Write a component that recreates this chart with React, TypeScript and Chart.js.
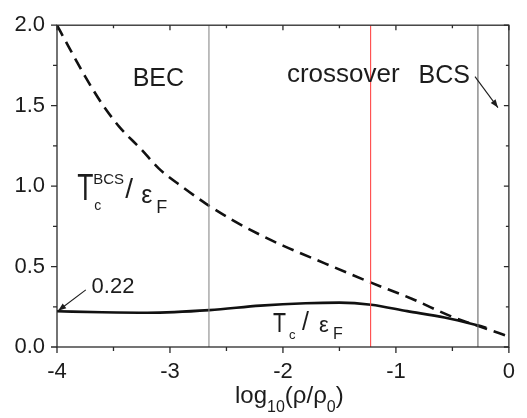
import React, { useEffect, useRef } from "react";
import { Chart, registerables } from "chart.js";

Chart.register(...registerables);

// ---- Data ----
const tcBcsX = [-4.0, -3.9, -3.75, -3.6, -3.45, -3.25, -3.1, -2.9, -2.68, -2.45, -2.21, -2.0, -1.63, -1.22, -0.86, -0.51, -0.27, 0.0];
const tcBcsY = [2.0, 1.87, 1.68, 1.51, 1.37, 1.225, 1.11, 1.0, 0.89, 0.79, 0.70, 0.63, 0.52, 0.40, 0.30, 0.19, 0.13, 0.065];

const tcX = [-4.0, -3.6, -3.2, -2.65, -2.2, -1.8, -1.5, -1.22, -0.9, -0.57, -0.27, -0.2];
const tcY = [0.222, 0.216, 0.213, 0.229, 0.257, 0.272, 0.276, 0.263, 0.223, 0.183, 0.133, 0.12];

const regionLinesX = [-2.655, -1.224, -0.274];
const regionLineColors = ["#8a8a8a", "#ff4a4a", "#666666"];

const xMajorTicks = [-4, -3, -2, -1, 0];
const xMinorTicks = [-3.5, -2.5, -1.5, -0.5];
const yMajorTicks = [0, 0.5, 1.0, 1.5, 2.0];
const yMinorTicks = [0.25, 0.75, 1.25, 1.75];

const FONT = "'Liberation Sans', Arial, Helvetica, sans-serif";
const INK = "#1c1c1c";

const toPts = (xs: number[], ys: number[]) => xs.map((x, i) => ({ x, y: ys[i] }));

const framePlugin = {
  id: "frameTicks",
  afterDatasetsDraw(chart: any) {
    const { ctx, chartArea: a, scales } = chart;
    const xs = scales.x, ys = scales.y;
    ctx.save();
    ctx.strokeStyle = "#2a2a2a";
    ctx.lineWidth = 1.3;
    ctx.strokeRect(a.left, a.top, a.right - a.left, a.bottom - a.top);
    const xt = (v: number, len: number) => {
      const p = xs.getPixelForValue(v);
      ctx.beginPath();
      ctx.moveTo(p, a.bottom);
      ctx.lineTo(p, a.bottom + len);
      ctx.moveTo(p, a.top);
      ctx.lineTo(p, a.top + len - 1);
      ctx.stroke();
    };
    const yt = (v: number, len: number) => {
      const p = ys.getPixelForValue(v);
      ctx.beginPath();
      ctx.moveTo(a.left, p);
      ctx.lineTo(a.left - len, p);
      ctx.moveTo(a.right, p);
      ctx.lineTo(a.right - len + 1, p);
      ctx.stroke();
    };
    xMajorTicks.forEach((v) => xt(v, 6));
    xMinorTicks.forEach((v) => xt(v, 4));
    yMajorTicks.forEach((v) => yt(v, 6));
    yMinorTicks.forEach((v) => yt(v, 4));
    ctx.restore();
  },
};

function arrow(ctx: any, x1: number, y1: number, x2: number, y2: number) {
  ctx.beginPath();
  ctx.moveTo(x1, y1);
  ctx.lineTo(x2, y2);
  ctx.stroke();
  const ang = Math.atan2(y2 - y1, x2 - x1);
  const L = 8, W = 3;
  ctx.beginPath();
  ctx.moveTo(x2, y2);
  ctx.lineTo(x2 - L * Math.cos(ang) + W * Math.sin(ang), y2 - L * Math.sin(ang) - W * Math.cos(ang));
  ctx.lineTo(x2 - L * Math.cos(ang) - W * Math.sin(ang), y2 - L * Math.sin(ang) + W * Math.cos(ang));
  ctx.closePath();
  ctx.fill();
}

const annotationPlugin = {
  id: "annots",
  afterDraw(chart: any) {
    const { ctx, scales } = chart;
    const X = (v: number) => scales.x.getPixelForValue(v);
    const Y = (v: number) => scales.y.getPixelForValue(v);
    ctx.save();
    ctx.fillStyle = INK;
    ctx.strokeStyle = INK;
    ctx.textAlign = "left";
    ctx.textBaseline = "alphabetic";
    const t = (s: string, x: number, y: number, size: number) => {
      ctx.font = `${size}px ${FONT}`;
      ctx.fillText(s, x, y);
      return ctx.measureText(s).width;
    };
    const tall = (s: string, x: number, y: number, size: number, sx: number, sy: number) => {
      ctx.save();
      ctx.translate(x, y);
      ctx.scale(sx, sy);
      ctx.font = `${size}px ${FONT}`;
      ctx.fillText(s, 0, 0);
      ctx.restore();
    };

    // region labels
    t("BEC", X(-3.33), Y(1.62), 25);
    t("crossover", X(-1.965), Y(1.65), 26);
    t("BCS", X(-0.80), Y(1.64), 25);
    ctx.lineWidth = 1.1;
    arrow(ctx, X(-0.30), Y(1.68), X(-0.097), Y(1.488));

    // 0.22 label
    t("0.22", X(-3.694), Y(0.333), 22);
    arrow(ctx, X(-3.745), Y(0.355), X(-3.99), Y(0.225));

    // Tc^BCS / eps_F
    {
      const x0 = X(-3.812), y0 = Y(0.916);
      tall("T", x0 - 1, y0, 34, 0.78, 1.1);
      t("BCS", x0 + 15, y0 - 16, 15);
      t("c", x0 + 16, y0 + 10, 14);
      t("/", x0 + 47, y0 - 2, 28);
      t("ε", x0 + 63, y0 + 3, 25);
      t("F", x0 + 78, y0 + 13, 18);
    }
    // Tc / eps_F
    {
      const x0 = X(-2.079), y0 = Y(0.092);
      tall("T", x0 - 1, y0, 26, 0.82, 1.07);
      t("c", x0 + 15, y0 + 7, 13);
      t("/", x0 + 28, y0 - 2, 25);
      t("ε", x0 + 45, y0, 22);
      t("F", x0 + 59, y0 + 7, 16);
    }

    // x-axis title: log10(rho/rho0)
    {
      let x = 235;
      const y = 403;
      x += t("log", x, y, 24);
      x += t("10", x, y + 9, 16);
      x += t("(ρ/ρ", x, y, 24);
      x += t("0", x, y + 9, 16);
      t(")", x, y, 24);
    }
    ctx.restore();
  },
};

export default function App() {
  const ref = useRef<HTMLCanvasElement>(null);
  useEffect(() => {
    if (!ref.current) return;
    const datasets: any[] = regionLinesX.map((x, i) => ({
      data: [{ x, y: 0 }, { x, y: 2 }],
      borderColor: regionLineColors[i],
      borderWidth: 1.1,
      pointRadius: 0,
      fill: false,
    }));
    datasets.push({
      data: toPts(tcBcsX, tcBcsY),
      borderColor: "#111",
      borderWidth: 2.6,
      borderDash: [12, 7],
      pointRadius: 0,
      cubicInterpolationMode: "monotone",
      fill: false,
    });
    datasets.push({
      data: toPts(tcX, tcY),
      borderColor: "#111",
      borderWidth: 2.6,
      pointRadius: 0,
      cubicInterpolationMode: "monotone",
      fill: false,
    });
    const chart = new Chart(ref.current, {
      type: "line",
      data: { datasets },
      options: {
        animation: false,
        responsive: false,
        layout: { padding: { left: 0, right: 16, top: 15, bottom: 0 } },
        plugins: { legend: { display: false }, tooltip: { enabled: false } },
        scales: {
          x: {
            type: "linear",
            min: -4,
            max: 0,
            grid: { display: false, drawTicks: false },
            border: { display: false },
            ticks: {
              stepSize: 1,
              padding: 12,
              color: INK,
              font: { family: FONT, size: 22 },
              callback: (v: any) => String(v),
            },
            afterFit: (s: any) => {
              s.height = 71;
            },
          },
          y: {
            type: "linear",
            min: 0,
            max: 2,
            grid: { display: false, drawTicks: false },
            border: { display: false },
            ticks: {
              stepSize: 0.5,
              padding: 12,
              color: INK,
              font: { family: FONT, size: 22 },
              callback: (v: any) => Number(v).toFixed(1),
            },
            afterFit: (s: any) => {
              s.width = 57;
            },
          },
        },
      } as any,
      plugins: [framePlugin, annotationPlugin],
    });
    return () => chart.destroy();
  }, []);
  return (
    <div style={{ position: "fixed", left: 0, top: 0, width: 527, height: 418, background: "#fff" }}>
      <canvas ref={ref} width={527} height={418} style={{ display: "block" }} />
    </div>
  );
}
